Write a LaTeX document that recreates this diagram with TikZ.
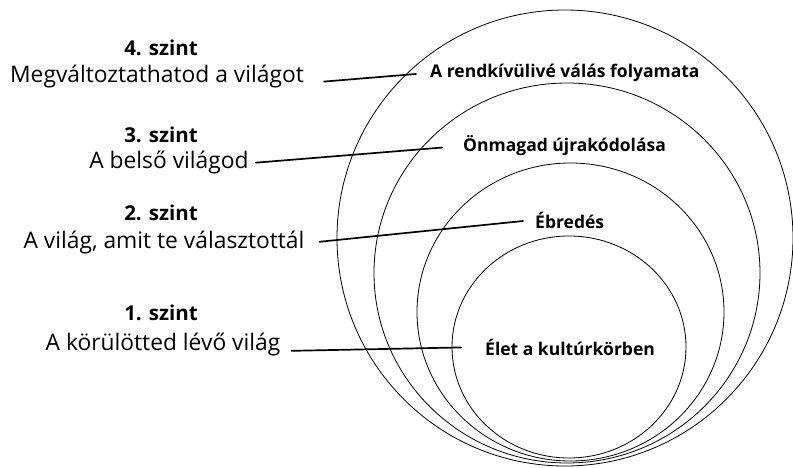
\documentclass[tikz,border=0pt]{standalone}
\usepackage{fontspec}
\setmainfont{Open Sans}
\begin{document}
\begin{tikzpicture}[x=1pt,y=-1pt,
  lvlhead/.style={font=\fontsize{20.5}{24}\selectfont\bfseries},
  lvltext/.style={font=\fontsize{22.8}{26}\selectfont, inner sep=3pt},
  ringtext/.style={font=\fontsize{17.5}{20}\selectfont\bfseries, inner sep=2pt, anchor=west},
  ring/.style={line width=.8pt},
  leader/.style={line width=1.7pt, line cap=round}
  ]
  \useasboundingbox (0,0) rectangle (793,468);
  % nested rings, all touching at the bottom
  \draw[ring] (565,238) ellipse [x radius=228, y radius=228];
  \draw[ring] (567,273) ellipse [x radius=193, y radius=190];
  \draw[ring] (570.5,312) ellipse [x radius=153.5, y radius=149];
  \draw[ring] (569,347) ellipse [x radius=117, y radius=111];
  % level labels on the left
  \node[lvlhead] (h4) at (161,48) {4. szint};
  \node[lvltext] (m4) at (157,77) {Megváltoztathatod a világot};
  \node[lvlhead] (h3) at (161,135) {3. szint};
  \node[lvltext] (m3) at (169,163) {A belső világod};
  \node[lvlhead] (h2) at (161,213) {2. szint};
  \node[lvltext] (m2) at (164,243) {A világ, amit te választottál};
  \node[lvlhead] (h1) at (161,313) {1. szint};
  \node[lvltext] (m1) at (163,345) {A körülötted lévő világ};
  % texts inside the rings
  \node[ringtext] (r4) at (428,73) {A rendkívülivé válás folyamata};
  \node[ringtext] (r3) at (461,146) {Önmagad újrakódolása};
  \node[ringtext] (r2) at (533,220) {Ébredés};
  \node[ringtext] (r1) at (483,347) {Élet a kultúrkörben};
  % leaders
  \draw[leader, shorten <=17pt, shorten >=12pt] (m4.base east) -- (r4.west);
  \draw[leader, shorten <=4pt, shorten >=19pt] (m3.east) -- (r3.west);
  \draw[leader, shorten <=12pt, shorten >=10pt] (m2.east) -- (r2.west);
  \draw[leader, shorten <=8pt, shorten >=22pt] (m1.base east) -- (r1.west);
\end{tikzpicture}
\end{document}
